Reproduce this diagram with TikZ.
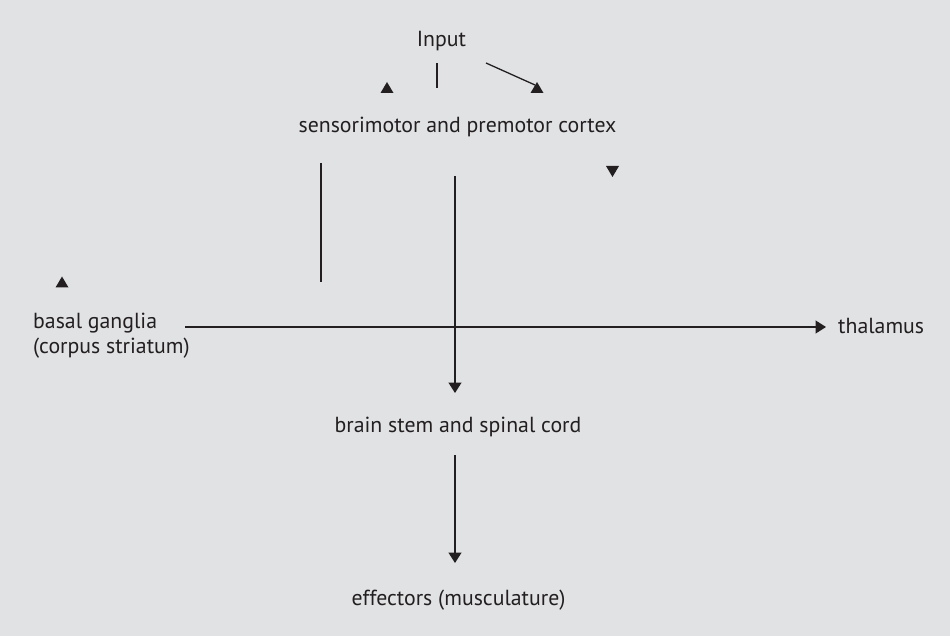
\documentclass[tikz,border=0pt]{standalone}
\usepackage{fontspec}
\setmainfont{PT Sans}
\usetikzlibrary{arrows.meta}
\definecolor{bg}{HTML}{E1E2E4}
\definecolor{ink}{HTML}{231F20}
\begin{document}
\begin{tikzpicture}[x=1pt,y=-1pt,
  lbl/.style={text=ink, font=\fontsize{21.8}{26}\selectfont, inner sep=0pt, anchor=base},
  lblw/.style={lbl, anchor=base west},
  wire/.style={draw=ink, line width=1.3pt},
  tip/.style={-{Triangle[length=10.5pt,width=13pt]}},
  uphead/.pic={\fill[ink] (-6.5,5.5) -- (0,-5.5) -- (6.5,5.5) -- cycle;},
  downhead/.pic={\fill[ink] (-6.5,-5.5) -- (0,5.5) -- (6.5,-5.5) -- cycle;}]
% background panel
\fill[bg] (0,0) rectangle (950,636);
\useasboundingbox (0,0) rectangle (950,636);

% labels
\node[lbl]  (input)    at (441.5,47)  {Input};
\node[lbl]  (cortex)   at (457.5,133) {sensorimotor and premotor cortex};
\node[lblw] (basal)    at (33,328)    {basal ganglia};
\node[lblw] (striatum) at (33,353)    {(corpus striatum)};
\node[lblw] (thalamus) at (838,333)   {thalamus};
\node[lbl]  (stem)     at (458,432)   {brain stem and spinal cord};
\node[lbl]  (effect)   at (458.5,605) {effectors (musculature)};

% connector end points
\coordinate (inA) at (437,63);   \coordinate (inB) at (437,88);
\coordinate (dgA) at (486,63);   \coordinate (dgB) at (535,85);
\coordinate (lfA) at (321,163);  \coordinate (lfB) at (321,282);
\coordinate (ctA) at (455,176);  \coordinate (ctB) at (455,393);
\coordinate (bgA) at (185,327);  \coordinate (bgB) at (826,327);
\coordinate (stA) at (455,455);  \coordinate (stB) at (455,563);

% connectors
\draw[wire] (inA) -- (inB);
\draw[wire] (dgA) -- (dgB);
\draw[wire] (lfA) -- (lfB);
\draw[wire,tip] (ctA) -- (ctB);
\draw[wire,tip] (bgA) -- (bgB);
\draw[wire,tip] (stA) -- (stB);

% detached arrowheads
\pic at (387,87.5) {uphead};
\pic at (537,87.5) {uphead};
\pic at (62,282)   {uphead};
\pic at (612.5,171.5) {downhead};
\end{tikzpicture}
\end{document}
